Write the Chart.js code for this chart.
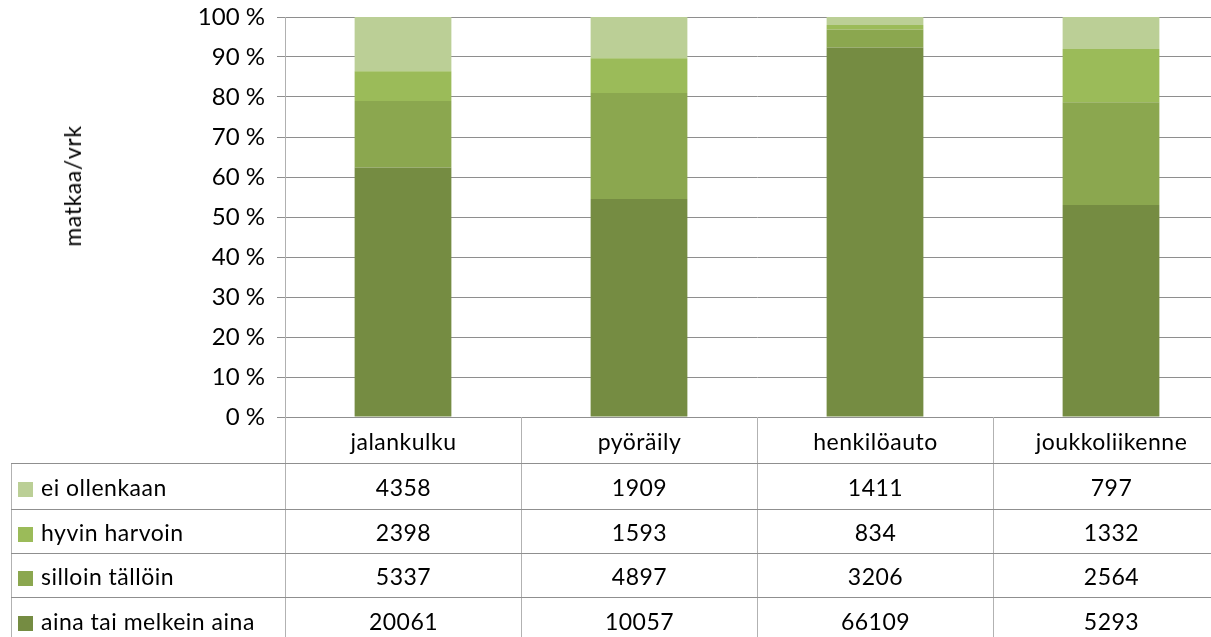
<!DOCTYPE html>
<html>
<head>
<meta charset="utf-8">
<script src="https://cdn.jsdelivr.net/npm/chart.js@4"></script>
<style>
  html, body { margin: 0; padding: 0; background: #fff; overflow: hidden; width: 1211px; height: 637px; }
  #wrap { position: absolute; left: 0; top: 0; width: 1240px; height: 445px; }
  #ytitle { position: absolute; left: 72px; top: 186px; transform: translate(-50%, -50%) rotate(-90deg); white-space: nowrap;
            font-family: Lato, "Open Sans", sans-serif; font-size: 23px; letter-spacing: 0.6px; color: #000; }
  #tbl { position: absolute; border-collapse: collapse; table-layout: fixed; font-family: Lato, "Open Sans", sans-serif; font-size: 23px; color: #000; letter-spacing: 0.5px; }
  #tbl td { border: 1px solid #8f8f8f; border-left-color: #b2b2b2; border-right-color: #b2b2b2; padding: 0; text-align: center; white-space: nowrap; overflow: hidden; }
  #tbl td.lbl { text-align: left; padding-left: 6px; }
  #tbl td.blank { border-top: none; border-left: none; }
  .sw { display: inline-block; width: 15px; height: 15px; margin-right: 8px; vertical-align: -1px; }
</style>
</head>
<body>
<div id="wrap"><canvas id="c"></canvas></div>
<div id="ytitle">matkaa/vrk</div>
<table id="tbl"></table>
<script>
const categories = ['jalankulku', 'pyöräily', 'henkilöauto', 'joukkoliikenne'];
const eiOllenkaan = [4358, 1909, 1411, 797];
const hyvinHarvoin = [2398, 1593, 834, 1332];
const silloinTalloin = [5337, 4897, 3206, 2564];
const ainaTaiMelkeinAina = [20061, 10057, 66109, 5293];
const yTicks = [0, 10, 20, 30, 40, 50, 60, 70, 80, 90, 100];

// bottom of the stack first
const series = [
  { label: 'aina tai melkein aina', values: ainaTaiMelkeinAina, color: '#758c42' },
  { label: 'silloin tällöin', values: silloinTalloin, color: '#8ba74f' },
  { label: 'hyvin harvoin', values: hyvinHarvoin, color: '#9bbb59' },
  { label: 'ei ollenkaan', values: eiOllenkaan, color: '#bbcf96' },
];

const totals = categories.map((c, i) => series.reduce((s, d) => s + d.values[i], 0));

const chart = new Chart(document.getElementById('c'), {
  type: 'bar',
  data: {
    labels: categories,
    datasets: series.map(s => ({
      label: s.label,
      data: s.values.map((v, i) => v / totals[i] * 100),
      backgroundColor: s.color,
      borderWidth: 0,
      categoryPercentage: 1,
      barPercentage: 0.41,
    })),
  },
  options: {
    responsive: true,
    maintainAspectRatio: false,
    animation: false,
    layout: { padding: { top: 17, right: 11, bottom: 28, left: 54 } },
    plugins: { legend: { display: false }, tooltip: { enabled: false } },
    scales: {
      x: { stacked: true, display: false },
      y: {
        stacked: true,
        min: 0,
        max: 100,
        afterFit: s => { s.width = 231; s.paddingTop = 0; s.paddingBottom = 0; },
        afterBuildTicks: s => { s.ticks = yTicks.map(v => ({ value: v })); },
        ticks: {
          padding: 12,
          color: '#000',
          font: { family: 'Lato, "Open Sans", sans-serif', size: 24 },
          callback: v => v + ' %',
        },
        grid: { color: '#8e8e8e', tickLength: 8, lineWidth: 1 },
        border: { color: '#b0b0b0' },
      },
    },
  },
});

// data table under the plot, aligned to the category scale
(function buildTable() {
  const area = chart.chartArea;
  const colW = (area.right - area.left) / categories.length;
  const tbl = document.getElementById('tbl');
  const left = 11;
  const firstW = area.left - left;
  tbl.style.left = left + 'px';
  tbl.style.top = Math.round(area.bottom) + 'px';
  tbl.style.width = (firstW + colW * categories.length) + 'px';
  let html = '<colgroup><col style="width:' + firstW + 'px">';
  categories.forEach(() => { html += '<col style="width:' + colW + 'px">'; });
  html += '</colgroup><tr style="height:46px"><td class="blank"></td>';
  categories.forEach(c => { html += '<td>' + c + '</td>'; });
  html += '</tr>';
  const heights = [46, 44, 44, 46];
  series.slice().reverse().forEach((s, r) => {
    html += '<tr style="height:' + heights[r] + 'px"><td class="lbl"><span class="sw" style="background:' + s.color + '"></span>' + s.label + '</td>';
    s.values.forEach(v => { html += '<td>' + v + '</td>'; });
    html += '</tr>';
  });
  tbl.innerHTML = html;
})();
</script>
</body>
</html>
